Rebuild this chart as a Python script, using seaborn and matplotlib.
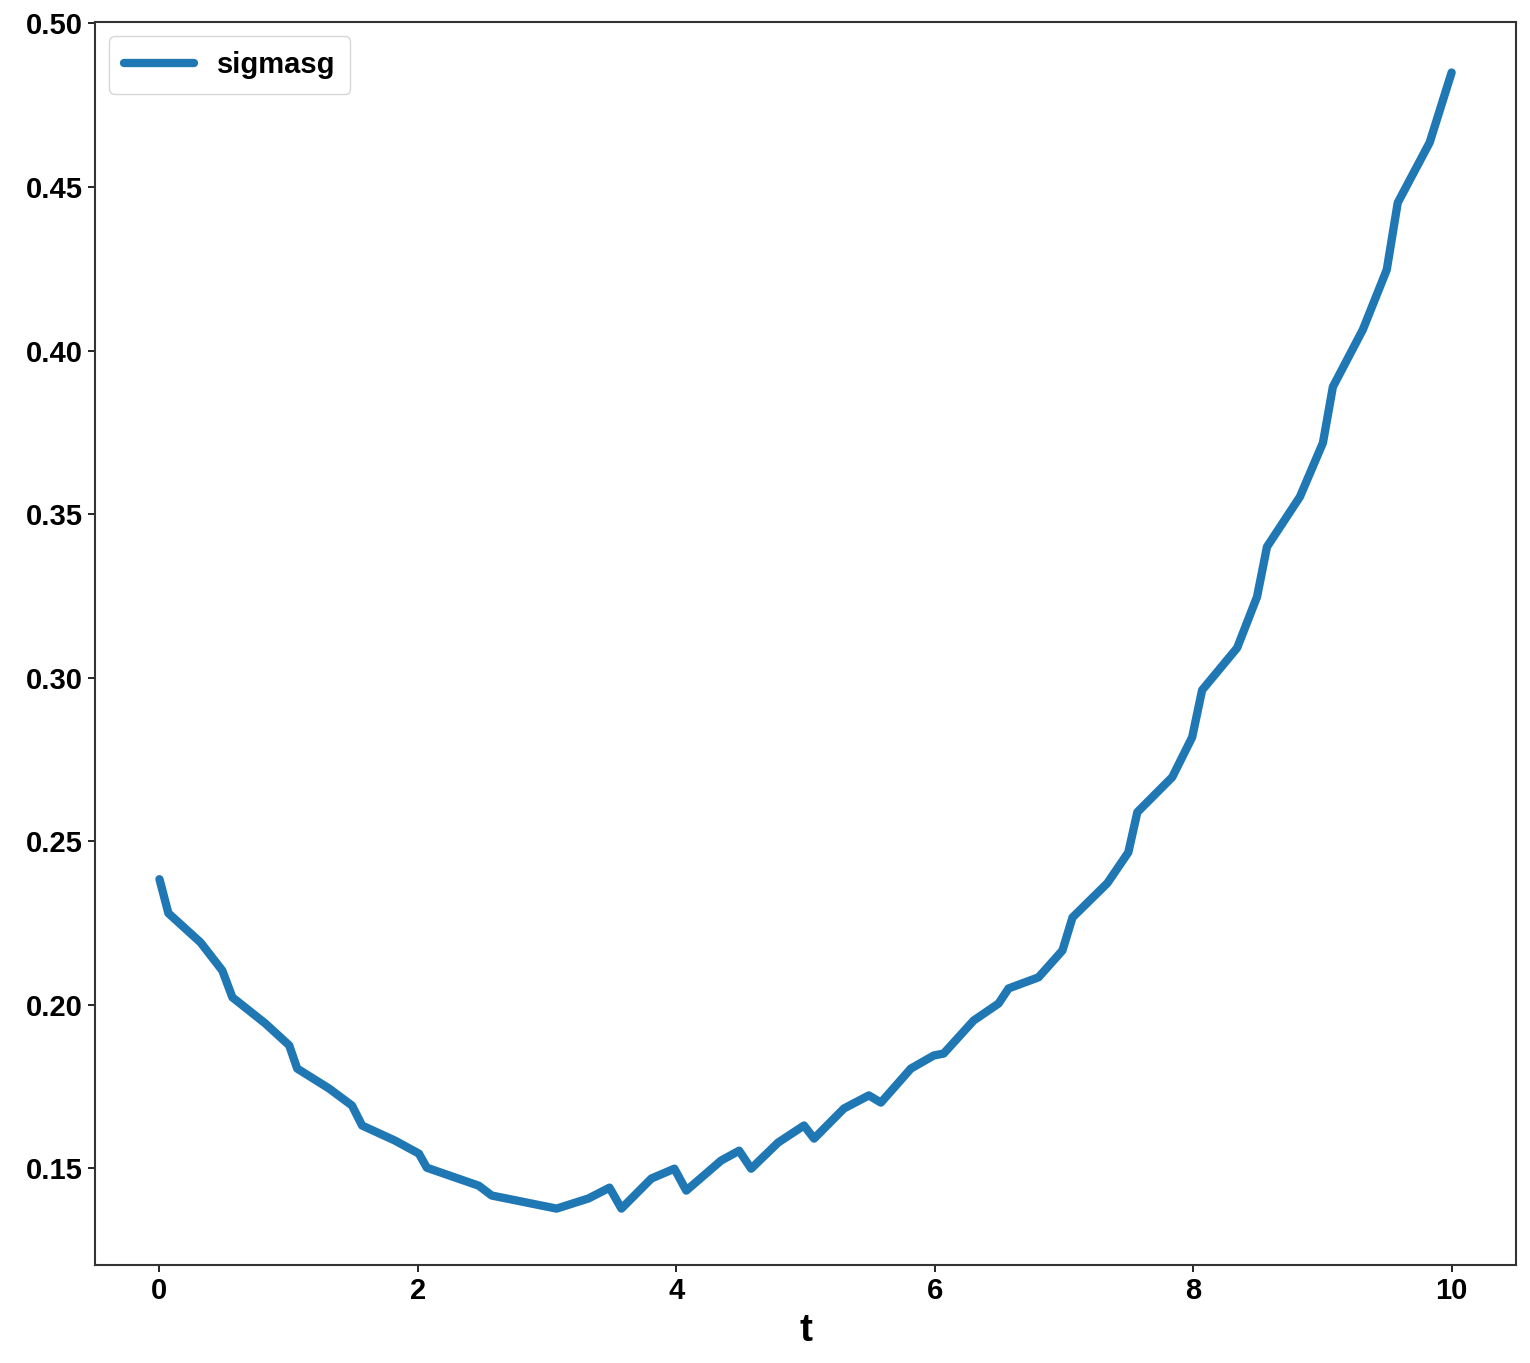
import pandas as pd
import matplotlib
matplotlib.use("Agg")
import matplotlib.pyplot as plt
import seaborn as sns

# 数据
t = [0.0, 0.069, 0.317, 0.486, 0.564, 0.819, 1.004, 1.066, 1.313, 1.490,
     1.568, 1.822, 2.008, 2.069, 2.471, 2.571, 3.073, 3.320, 3.483, 3.575,
     3.807, 3.985, 4.077, 4.347, 4.486, 4.579, 4.788, 4.988, 5.066, 5.297,
     5.490, 5.583, 5.815, 5.992, 6.069, 6.301, 6.494, 6.571, 6.803, 6.988,
     7.066, 7.336, 7.498, 7.568, 7.838, 7.992, 8.069, 8.340, 8.494, 8.571,
     8.826, 9.004, 9.081, 9.313, 9.498, 9.583, 9.830, 10.0]
sigmasg = [0.2384, 0.2280, 0.2191, 0.2105, 0.2023, 0.1943, 0.1876, 0.1805, 0.1744, 0.1692,
           0.1631, 0.1585, 0.1545, 0.1502, 0.1447, 0.1417, 0.1377, 0.1408, 0.1441, 0.1377,
           0.1469, 0.1499, 0.1432, 0.1524, 0.1554, 0.1499, 0.1579, 0.1631, 0.1591, 0.1683,
           0.1723, 0.1701, 0.1805, 0.1845, 0.1851, 0.1952, 0.2004, 0.2050, 0.2084, 0.2166,
           0.2267, 0.2372, 0.2466, 0.2589, 0.2696, 0.2818, 0.2962, 0.3091, 0.3247, 0.3400,
           0.3553, 0.3718, 0.3889, 0.4064, 0.4247, 0.4452, 0.4636, 0.4850]
yticks = [0.15, 0.20, 0.25, 0.30, 0.35, 0.40, 0.45, 0.50]
ytick_labels = ['0.15', '0.20', '0.25', '0.30', '0.35', '0.40', '0.45', '0.50']

df = pd.DataFrame({'t': t, 'sigmasg': sigmasg})

sns.set_style("ticks")
plt.rcParams["font.family"] = ["Liberation Sans", "DejaVu Sans"]
plt.rcParams["text.color"] = "black"
plt.rcParams["axes.labelcolor"] = "black"

fig = plt.figure(figsize=(15.3, 13.63), dpi=100)
ax = fig.add_axes([0.062, 0.072, 0.929, 0.912])

sns.lineplot(data=df, x='t', y='sigmasg', ax=ax, color='#1f77b4', linewidth=6,
             label='sigmasg', estimator=None, sort=False)

ax.set_ylim(0.1205, 0.5005)
ax.set_xlabel('t', fontsize=28, fontweight='bold', labelpad=6)
ax.set_ylabel('')
ax.set_xticks([0, 2, 4, 6, 8, 10])
ax.set_yticks(yticks)
ax.set_yticklabels(ytick_labels)
for lab in ax.get_xticklabels() + ax.get_yticklabels():
    lab.set_fontsize(21)
    lab.set_fontweight('bold')
ax.tick_params(length=5, width=1.2, colors='black')

for s in ax.spines.values():
    s.set_color('#333333')
    s.set_linewidth(1.5)

leg = ax.legend(loc='upper left', prop={'size': 21, 'weight': 'bold'},
                handlelength=2.4, borderpad=0.5, frameon=True)

fig.savefig('out.png', dpi=100)
